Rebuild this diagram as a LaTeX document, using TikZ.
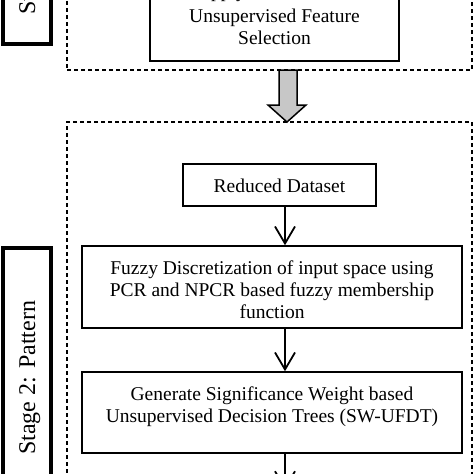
\documentclass[tikz,border=0pt]{standalone}
\usepackage{fontspec}
\setmainfont{Liberation Serif}
\usetikzlibrary{arrows.meta}
\tikzset{
  procbox/.style={draw, line width=1.5pt, inner sep=0pt},
  stagebox/.style={draw, line width=3.5pt, inner sep=0pt},
  stageframe/.style={draw, line width=1.5pt, dash pattern=on 4pt off 3pt, inner sep=0pt},
  lbl/.style={font=\fontsize{19.5}{22}\selectfont, align=center, inner sep=0pt},
  stagelbl/.style={font=\fontsize{24}{28}\selectfont, rotate=90, anchor=base west, inner sep=0pt},
  flow/.style={-{Straight Barb[length=17pt,width=20pt]}, line width=1.8pt},
  blockarrow/.style={draw, line width=1.5pt, fill=black!22, line join=miter},
}
\begin{document}
\begin{tikzpicture}[x=1pt,y=-1pt]
\useasboundingbox (0,0) rectangle (474,474);
% stage label boxes
\node[stagebox, minimum width=48pt, minimum height=144pt] (s1box) at (27,-28) {};
\node[stagebox, minimum width=48pt, minimum height=272pt] (s2box) at (27,384) {};
\node[stagelbl] (s1lbl) at (35,15) {Stage 1};
\node[stagelbl] (s2lbl) at (35,455) {Stage 2: Pattern};
% dashed stage frames
\node[stageframe, minimum width=405pt, minimum height=130pt] (s1frame) at (269.5,5) {};
\node[stageframe, minimum width=405pt, minimum height=418pt] (s2frame) at (269.5,331) {};
% process boxes
\node[procbox, minimum width=249pt, minimum height=86pt] (apply) at (274.5,18) {};
\node[lbl] (applyt) at (274.5,16.6) {\strut Apply the Modified\\[3pt]\strut Unsupervised Feature\\\strut Selection};
\node[procbox, minimum width=193pt, minimum height=42pt] (reduced) at (279.5,185) {};
\node[lbl] (reducedt) at (279.5,187.6) {\strut Reduced Dataset};
\node[procbox, minimum width=380pt, minimum height=82pt] (fuzzy) at (272,287) {};
\node[lbl] (fuzzyt) at (272,291.6) {\strut Fuzzy Discretization of input space using\\\strut PCR and NPCR based fuzzy membership\\\strut function};
\node[procbox, minimum width=380pt, minimum height=81pt] (generate) at (272,412.5) {};
\node[lbl] (generatet) at (272,407) {\strut Generate Significance Weight based\\\strut Unsupervised Decision Trees (SW-UFDT)};
% block arrow between stages
\draw[blockarrow] (279,70) -- (279,105) -- (268,105) -- (287,122) -- (306,105) -- (297,105) -- (297,70) -- cycle;
% flow arrows
\coordinate (ax) at (285,0);
\coordinate (exit) at (285,490);
\draw[flow] (reduced.south -| ax) -- (fuzzy.north -| ax);
\draw[flow] (fuzzy.south -| ax) -- (generate.north -| ax);
\draw[flow] (generate.south -| ax) -- (exit);
\end{tikzpicture}
\end{document}
